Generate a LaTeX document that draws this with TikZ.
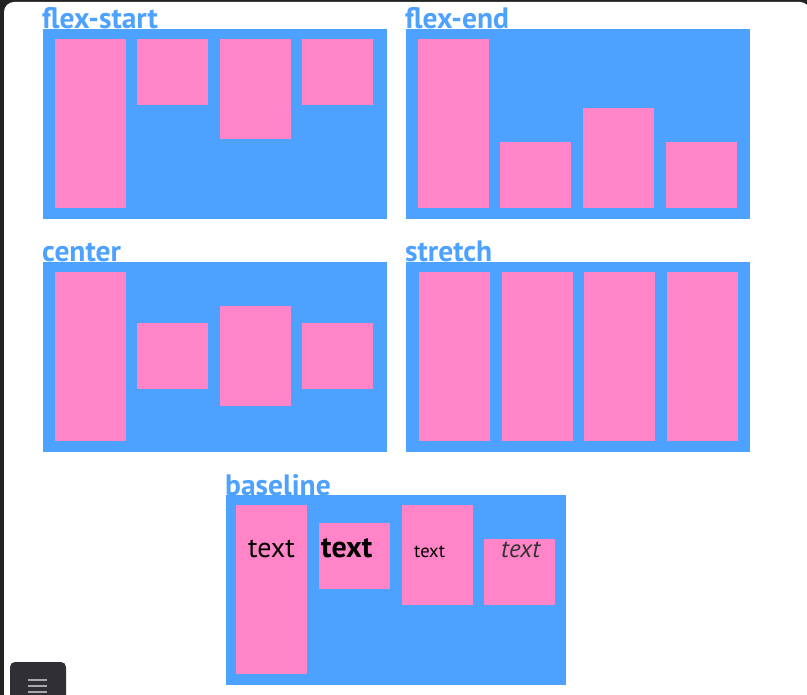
\documentclass[tikz,border=0pt]{standalone}
\usepackage{fontspec}
\setmainfont{PT Sans}
\definecolor{boxblue}{HTML}{4DA1FF}
\definecolor{itempink}{HTML}{FF85C8}
\definecolor{framedark}{HTML}{232323}
\definecolor{btndark}{HTML}{2F2F35}
\definecolor{btnline}{HTML}{A8A8AC}
\tikzset{
  panel/.style={fill=boxblue, anchor=north west, inner sep=0pt, minimum width=344pt, minimum height=190pt},
  item/.style={fill=itempink, anchor=north west, inner sep=0pt, minimum width=71pt},
  title/.style={anchor=base west, inner sep=0pt, text=boxblue, font=\bfseries\fontsize{29.5}{29.5}\selectfont},
  word/.style={anchor=base west, inner sep=0pt}
}
\begin{document}
\begin{tikzpicture}[x=1pt, y=-1pt]
  \useasboundingbox (0,0) rectangle (807,695);
  \clip (0,0) rectangle (807,695);
  % window
  \fill[framedark] (0,0) rectangle (807,695);
  \fill[white, rounded corners=10pt] (4,2) rectangle (810,720);

  % containers
  \node[panel] (start) at (43,29) {};
  \node[panel] (end) at (406,29) {};
  \node[panel] (center) at (43,262) {};
  \node[panel] (stretch) at (406,262) {};
  \node[panel, minimum width=340pt] (base) at (226,495) {};

  \node[title] (tstart) at (42,29) {flex-start};
  \node[title] (tend) at (405,29) {flex-end};
  \node[title] (tcenter) at (42,262) {center};
  \node[title] (tstretch) at (405,262) {stretch};
  \node[title] (tbase) at (225,495) {baseline};

  % items: x / top / height
  \foreach \x/\y/\h [count=\i] in {55/39/169, 137/39/66, 220/39/100, 302/39/66}
    \node[item, minimum height=\h pt] (start\i) at (\x,\y) {};
  \foreach \x/\y/\h [count=\i] in {418/39/169, 500/142/66, 583/108/100, 666/142/66}
    \node[item, minimum height=\h pt] (end\i) at (\x,\y) {};
  \foreach \x/\y/\h [count=\i] in {55/272/169, 137/323/66, 220/306/100, 302/323/66}
    \node[item, minimum height=\h pt] (center\i) at (\x,\y) {};
  \foreach \x [count=\i] in {419, 502, 584, 667}
    \node[item, minimum height=169pt] (stretch\i) at (\x,272) {};
  \foreach \x/\y/\h [count=\i] in {236/505/169, 319/523/66, 402/505/100, 484/539/66}
    \node[item, minimum height=\h pt] (base\i) at (\x,\y) {};

  % texts on one baseline
  \node[word, font=\fontsize{28}{28}\selectfont] (text1) at (248,557) {text};
  \node[word, font=\bfseries\fontsize{30}{30}\selectfont] (text2) at (321,557) {text};
  \node[word, font=\fontsize{18.5}{18.5}\selectfont] (text3) at (414,557) {text};
  \node[word, font=\itshape\fontsize{25}{25}\selectfont, text=black!80] (text4) at (501,557) {text};

  % menu button
  \fill[btndark, rounded corners=5pt] (10,662) rectangle (66,710);
  \foreach \y in {680, 686, 692}
    \draw[btnline, line width=2pt] (28,\y) -- (47,\y);
\end{tikzpicture}
\end{document}
